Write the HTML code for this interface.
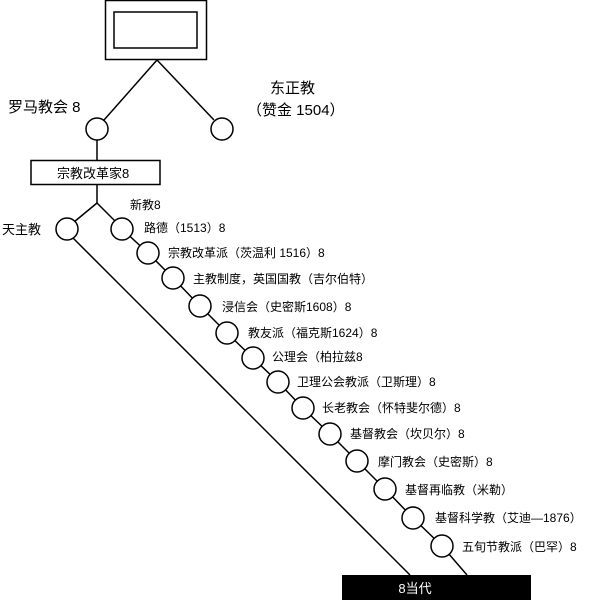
<!DOCTYPE html>
<html><head><meta charset="utf-8"><style>
html,body{margin:0;padding:0;background:#fff;}
svg text{font-family:"Liberation Sans","Noto Sans CJK SC",sans-serif;fill:#000;}
</style></head><body>
<svg width="600" height="600" viewBox="0 0 600 600" xmlns="http://www.w3.org/2000/svg">
<g fill="none" stroke="#000" stroke-width="1.5">
<rect x="105.5" y="0.5" width="101" height="59"/>
<rect x="114" y="12" width="83" height="36"/>
<line x1="157" y1="60" x2="104" y2="120"/>
<line x1="157" y1="60" x2="214" y2="120"/>
<line x1="97" y1="140" x2="97" y2="160"/>
<rect x="31" y="160.5" width="129" height="24"/>
<line x1="97" y1="185" x2="97" y2="203"/>
<line x1="97" y1="203" x2="74" y2="222"/>
<line x1="97" y1="203" x2="115" y2="221"/>
<line x1="73" y1="238" x2="410" y2="575"/>
<polyline points="122,229 148,253 173,278 200,306 227,333 253,358 278,382 303,408 330,434 357,461 385,489 413,518 442,546 467,575"/>
</g>
<g fill="#fff" stroke="#000" stroke-width="1.5">
<circle cx="97" cy="129" r="11"/>
<circle cx="222" cy="129" r="11"/>
<circle cx="67" cy="229" r="11"/>
<circle cx="122" cy="229" r="11"/>
<circle cx="148" cy="253" r="11"/>
<circle cx="173" cy="278" r="11"/>
<circle cx="200" cy="306" r="11"/>
<circle cx="227" cy="333" r="11"/>
<circle cx="253" cy="358" r="11"/>
<circle cx="278" cy="382" r="11"/>
<circle cx="303" cy="408" r="11"/>
<circle cx="330" cy="434" r="11"/>
<circle cx="357" cy="461" r="11"/>
<circle cx="385" cy="489" r="11"/>
<circle cx="413" cy="518" r="11"/>
<circle cx="442" cy="546" r="11"/>
</g>
<rect x="342" y="575" width="189" height="25" fill="#000"/>
<text x="415" y="593" font-size="13" text-anchor="middle" style="fill:#fff">8当代</text>
<text x="8" y="112" font-size="15">罗马教会 8</text>
<text x="270" y="93" font-size="15">东正教</text>
<text x="247" y="115" font-size="15">（赞金 1504）</text>
<text x="57" y="178" font-size="13">宗教改革家8</text>
<text x="130" y="209" font-size="12">新教8</text>
<text x="2" y="234" font-size="13">天主教</text>
<g font-size="12">
<text x="144" y="232">路德（1513）8</text>
<text x="168" y="257">宗教改革派（茨温利 1516）8</text>
<text x="193" y="283">主教制度，英国国教（吉尔伯特）</text>
<text x="222" y="311">浸信会（史密斯1608）8</text>
<text x="248" y="337">教友派（福克斯1624）8</text>
<text x="272" y="361">公理会（柏拉兹8</text>
<text x="297" y="386">卫理公会教派（卫斯理）8</text>
<text x="322" y="412">长老教会（怀特斐尔德）8</text>
<text x="350" y="438">基督教会（坎贝尔）8</text>
<text x="378" y="466">摩门教会（史密斯）8</text>
<text x="405" y="494">基督再临教（米勒）</text>
<text x="435" y="522">基督科学教（艾迪—1876）</text>
<text x="462" y="551">五旬节教派（巴罕）8</text>
</g>
</svg>
</body></html>
